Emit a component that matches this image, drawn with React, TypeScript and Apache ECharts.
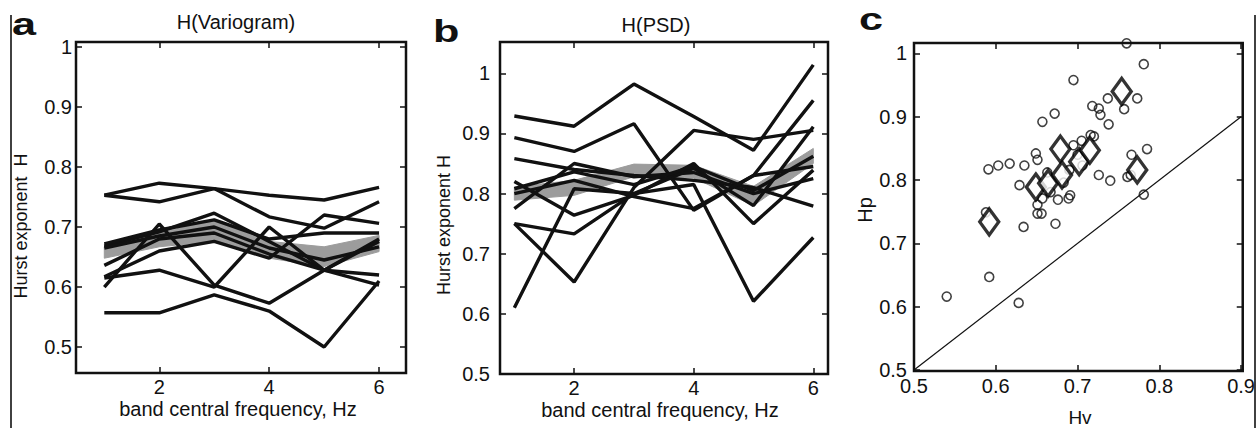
import React, { useEffect, useRef } from "react";
import * as echarts from "echarts";

// ---------- data ----------
const bands = [1, 2, 3, 4, 5, 6];
const bandTicks = [2, 4, 6];
const hTicks = [0.5, 0.6, 0.7, 0.8, 0.9, 1];
const hvTicks = [0.5, 0.6, 0.7, 0.8, 0.9];

// panel a: H(Variogram), one row per subject
const varioLines = [
  [0.753, 0.773, 0.764, 0.753, 0.745, 0.766],
  [0.753, 0.742, 0.764, 0.717, 0.698, 0.742],
  [0.668, 0.692, 0.723, 0.676, 0.628, 0.62],
  [0.6, 0.705, 0.603, 0.573, 0.628, 0.68],
  [0.557, 0.557, 0.587, 0.56, 0.5, 0.61],
  [0.615, 0.628, 0.6, 0.7, 0.628, 0.603],
  [0.672, 0.695, 0.712, 0.68, 0.69, 0.69],
  [0.636, 0.68, 0.69, 0.655, 0.628, 0.676],
  [0.617, 0.66, 0.676, 0.648, 0.72, 0.706],
  [0.665, 0.685, 0.7, 0.665, 0.645, 0.667],
];
const varioBandLow = [0.648, 0.667, 0.676, 0.648, 0.634, 0.659];
const varioBandHigh = [0.667, 0.69, 0.712, 0.676, 0.667, 0.686];

// panel b: H(PSD)
const psdLines = [
  [0.929, 0.912, 0.982, 0.928, 0.872, 1.014],
  [0.893, 0.87, 0.916, 0.772, 0.83, 0.955],
  [0.858, 0.84, 0.83, 0.822, 0.81, 0.779],
  [0.61, 0.808, 0.8, 0.842, 0.78, 0.911],
  [0.75, 0.653, 0.81, 0.905, 0.89, 0.905],
  [0.75, 0.733, 0.8, 0.815, 0.621, 0.727],
  [0.82, 0.764, 0.797, 0.85, 0.75, 0.839],
  [0.775, 0.85, 0.828, 0.835, 0.8, 0.825],
  [0.808, 0.836, 0.815, 0.845, 0.805, 0.862],
  [0.8, 0.822, 0.795, 0.775, 0.83, 0.845],
];
const psdBandLow = [0.789, 0.797, 0.828, 0.826, 0.78, 0.85];
const psdBandHigh = [0.811, 0.822, 0.849, 0.847, 0.812, 0.875];

// panel c: Hv vs Hp
const pointsHv = [
  0.54, 0.592, 0.628, 0.588, 0.591, 0.603, 0.617, 0.635, 0.629, 0.649, 0.651, 0.657,
  0.672, 0.695, 0.76, 0.781, 0.773, 0.737, 0.718, 0.726, 0.728, 0.738, 0.757, 0.785,
  0.766, 0.716, 0.695, 0.726, 0.74, 0.761, 0.781, 0.683, 0.657, 0.676, 0.689, 0.691,
  0.651, 0.651, 0.656, 0.634, 0.673, 0.667, 0.705, 0.72, 0.765, 0.663, 0.7, 0.706, 0.69,
];
const pointsHp = [
  0.616, 0.647, 0.606, 0.749, 0.817, 0.823, 0.826, 0.823, 0.792, 0.842, 0.832, 0.892,
  0.905, 0.958, 1.016, 0.983, 0.929, 0.929, 0.917, 0.913, 0.903, 0.888, 0.912, 0.849,
  0.84, 0.871, 0.855, 0.808, 0.799, 0.805, 0.777, 0.796, 0.771, 0.769, 0.771, 0.776,
  0.761, 0.747, 0.747, 0.726, 0.731, 0.781, 0.862, 0.869, 0.808, 0.812, 0.84, 0.823, 0.816,
];
const meansHv = [0.592, 0.649, 0.664, 0.679, 0.681, 0.702, 0.715, 0.754, 0.773];
const meansHp = [0.734, 0.789, 0.795, 0.849, 0.808, 0.829, 0.847, 0.94, 0.816];
const identityLine = [0.5, 0.9];

// ---------- styling ----------
const FONT = '"Liberation Sans", Arial, Helvetica, sans-serif';
const INK = "#111";

const fmt = (v: number) => String(+Number(v).toFixed(2));

function tickAxis(gridIndex: number, position: string, min: number, max: number, ticks: number[], showLabels: boolean, margin: number) {
  return {
    type: "value",
    gridIndex,
    position,
    min,
    max,
    axisLine: { show: false },
    splitLine: { show: false },
    axisTick: {
      show: true,
      inside: true,
      length: 6,
      customValues: ticks,
      lineStyle: { color: INK, width: 1.5 },
    },
    axisLabel: {
      show: showLabels,
      customValues: ticks,
      formatter: fmt,
      color: INK,
      fontFamily: FONT,
      fontSize: 20,
      margin,
    },
  };
}

function lineSeries(lines: number[][], xi: number) {
  return lines.map((row, k) => ({
    type: "line",
    name: `s${xi}-${k}`,
    xAxisIndex: xi,
    yAxisIndex: xi,
    data: bands.map((b, i) => [b, row[i]]),
    symbol: "none",
    z: 3,
    lineStyle: { color: INK, width: 3.4 },
  }));
}

function bandSeries(low: number[], high: number[], xi: number) {
  return {
    type: "custom",
    xAxisIndex: xi,
    yAxisIndex: xi,
    z: 1,
    data: [[bands[0], low[0]]],
    renderItem: (_params: any, api: any) => {
      const top = bands.map((b, i) => api.coord([b, high[i]]));
      const bottom = bands.map((b, i) => api.coord([b, low[i]])).reverse();
      return {
        type: "polygon",
        shape: { points: top.concat(bottom) },
        style: { fill: "#9c9c9c", stroke: "#9c9c9c", lineWidth: 1 },
      };
    },
  };
}

function txt(x: number, y: number, text: string, size: number, extra: any = {}) {
  return {
    type: "text",
    x,
    y,
    ...extra,
    style: {
      text,
      fill: INK,
      font: `${extra.weight || "normal"} ${size}px ${FONT}`,
      align: extra.align || "center",
      verticalAlign: "middle",
    },
  };
}

export default function App() {
  const ref = useRef<HTMLDivElement>(null);

  useEffect(() => {
    if (!ref.current) return;
    const chart = echarts.init(ref.current, undefined, { renderer: "svg" });

    const gridStyle = { show: true, borderColor: INK, borderWidth: 2.5, backgroundColor: "transparent" };

    const option: any = {
      animation: false,
      grid: [
        { left: 76, top: 42, width: 330, height: 331, ...gridStyle },
        { left: 500, top: 42, width: 328, height: 332, ...gridStyle },
        { left: 914, top: 43, width: 331, height: 328, ...gridStyle },
      ],
      xAxis: [
        tickAxis(0, "bottom", 0.485, 6.49, bandTicks, true, 4),
        tickAxis(1, "bottom", 0.76, 6.246, bandTicks, true, 4),
        tickAxis(2, "bottom", 0.5, 0.902, hvTicks, true, 5),
        tickAxis(0, "top", 0.485, 6.49, bandTicks, false, 6),
        tickAxis(1, "top", 0.76, 6.246, bandTicks, false, 6),
        tickAxis(2, "top", 0.5, 0.902, hvTicks, false, 6),
      ],
      yAxis: [
        tickAxis(0, "left", 0.4567, 1.0083, hTicks, true, 4),
        tickAxis(1, "left", 0.5, 1.052, hTicks, true, 10),
        tickAxis(2, "left", 0.4984, 1.0165, hTicks, true, 7),
        tickAxis(0, "right", 0.4567, 1.0083, hTicks, false, 4),
        tickAxis(1, "right", 0.5, 1.052, hTicks, false, 10),
        tickAxis(2, "right", 0.4984, 1.0165, hTicks, false, 7),
      ],
      series: [
        bandSeries(varioBandLow, varioBandHigh, 0),
        ...lineSeries(varioLines, 0),
        bandSeries(psdBandLow, psdBandHigh, 1),
        ...lineSeries(psdLines, 1),
        {
          type: "line",
          xAxisIndex: 2,
          yAxisIndex: 2,
          data: identityLine.map((v) => [v, v]),
          symbol: "none",
          z: 2,
          lineStyle: { color: INK, width: 1.2 },
        },
        {
          type: "scatter",
          xAxisIndex: 2,
          yAxisIndex: 2,
          data: pointsHv.map((v, i) => [v, pointsHp[i]]),
          symbol: "circle",
          symbolSize: 9,
          z: 3,
          itemStyle: { color: "rgba(0,0,0,0)", borderColor: INK, borderWidth: 1.6 },
        },
        {
          type: "scatter",
          xAxisIndex: 2,
          yAxisIndex: 2,
          data: meansHv.map((v, i) => [v, meansHp[i]]),
          symbol: "diamond",
          symbolSize: [19, 26],
          z: 4,
          itemStyle: { color: "#fff", borderColor: "#000", borderWidth: 3.4 },
        },
      ],
      graphic: [
        { type: "line", shape: { x1: 11, y1: 15, x2: 11, y2: 428 }, style: { stroke: INK, lineWidth: 1.6 } },
        { type: "line", shape: { x1: 1255, y1: 15, x2: 1255, y2: 428 }, style: { stroke: INK, lineWidth: 1.6 } },
        txt(12, 24, "a", 32, { weight: "bold", align: "left", scaleX: 1.35 }),
        txt(433, 31, "b", 32, { weight: "bold", align: "left", scaleX: 1.35 }),
        txt(859, 19, "c", 32, { weight: "bold", align: "left", scaleX: 1.35 }),
        txt(236, 22, "H(Variogram)", 20),
        txt(656, 25, "H(PSD)", 20),
        txt(238, 409, "band central frequency, Hz", 20),
        txt(660, 410, "band central frequency, Hz", 20),
        txt(1080, 417, "Hv", 19),
        txt(21, 226, "Hurst exponent  H", 18, { rotation: Math.PI / 2 }),
        txt(444, 225, "Hurst exponent H", 18, { rotation: Math.PI / 2 }),
        txt(865, 210, "Hp", 20, { rotation: Math.PI / 2 }),
      ],
    };

    chart.setOption(option);
    return () => chart.dispose();
  }, []);

  return (
    <div
      ref={ref}
      style={{ position: "absolute", left: 0, top: 0, width: 1258, height: 428, background: "#fff" }}
    />
  );
}
